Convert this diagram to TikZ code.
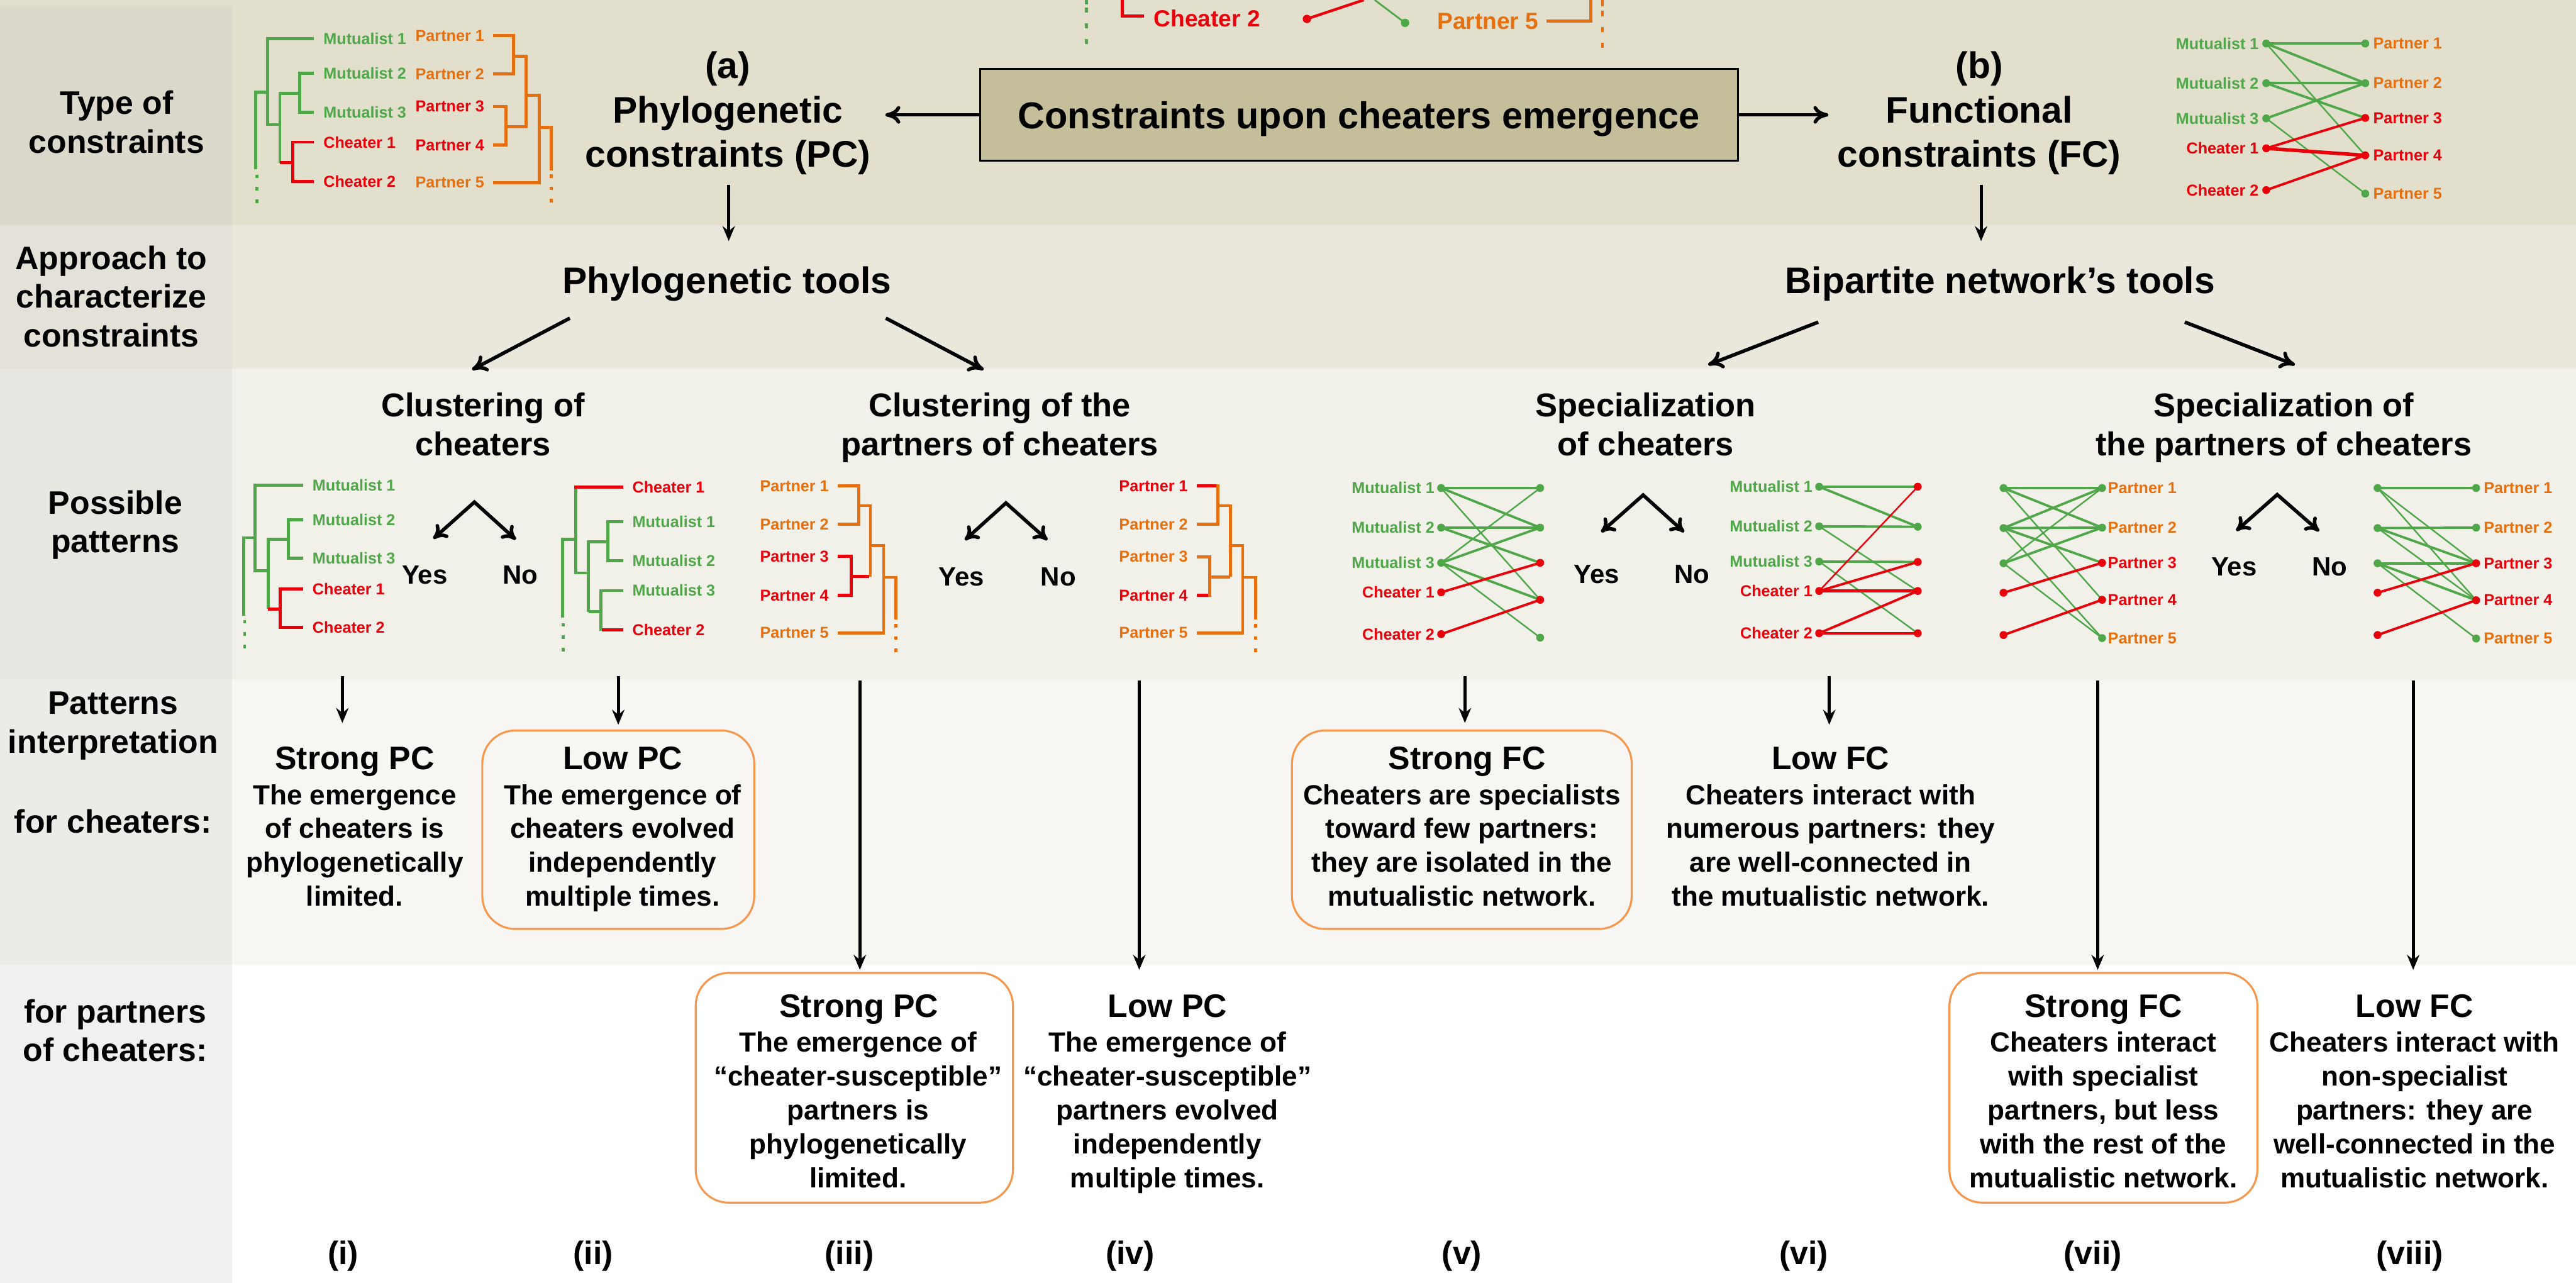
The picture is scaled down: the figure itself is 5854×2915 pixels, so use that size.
\documentclass[tikz,border=0pt]{standalone}
\usepackage{fontspec}
\setmainfont{Liberation Sans}
\usetikzlibrary{arrows.meta}
\definecolor{cgreen}{HTML}{4FA74A}
\definecolor{cred}{HTML}{E8000B}
\definecolor{corange}{HTML}{E6700F}
\definecolor{cbox}{HTML}{F5984D}
\definecolor{ctan}{HTML}{C5BE9A}
\definecolor{rowA}{HTML}{E2DFCC}
\definecolor{colA}{HTML}{DAD9CB}
\definecolor{rowB}{HTML}{EAE8DC}
\definecolor{colB}{HTML}{E4E2D8}
\definecolor{rowC}{HTML}{F2F1E9}
\definecolor{colC}{HTML}{E8E6E0}
\definecolor{rowD}{HTML}{F7F6F2}
\definecolor{colD}{HTML}{ECEBE7}
\definecolor{rowE}{HTML}{FFFFFF}
\definecolor{colE}{HTML}{F0F0F0}
\newcommand{\mlines}[6]{\foreach \lntext [count=\lnidx] in {#6} {\node[#2] (#1\lnidx) at (#3,{#4+(\lnidx-1)*#5}) {\lntext};}}
\newcommand{\bnet}[5]{\foreach \yy [count=\ii] in {#4} {\coordinate (#1L\ii) at (#2,\yy);}\foreach \yy [count=\ii] in {#5} {\coordinate (#1R\ii) at (#3,\yy);}}
\tikzset{
  fT/.style={font=\fontsize{84}{101}\selectfont\bfseries, anchor=base, inner sep=0pt},
  fL/.style={font=\fontsize{74}{88}\selectfont\bfseries, anchor=base, inner sep=0pt},
  fH/.style={font=\fontsize{75}{88}\selectfont\bfseries, anchor=base, inner sep=0pt},
  fM/.style={font=\fontsize{85}{100}\selectfont\bfseries, anchor=base, inner sep=0pt},
  fB/.style={font=\fontsize{63}{77}\selectfont\bfseries, anchor=base, inner sep=0pt},
  fK/.style={font=\fontsize{74}{88}\selectfont\bfseries, anchor=base, inner sep=0pt},
  fY/.style={font=\fontsize{60}{70}\selectfont\bfseries, anchor=base, inner sep=0pt},
  fs/.style={font=\fontsize{36}{40}\selectfont\bfseries, inner sep=0pt},
  fc/.style={font=\fontsize{53}{60}\selectfont\bfseries, inner sep=0pt},
  tr/.style={line width=7pt},
  trd/.style={line width=7pt, dash pattern=on 8pt off 20pt},
  darr/.style={line width=7pt, -{Stealth[length=34pt,width=28pt,inset=11pt]}},
  harr/.style={line width=8pt, -{Computer Modern Rightarrow[length=34pt,width=40pt]}},
  yn/.style={line width=8pt, line join=miter, {Computer Modern Rightarrow[length=30pt,width=40pt]}-{Computer Modern Rightarrow[length=30pt,width=40pt]}},
  gT/.style={cgreen, line width=5.5pt},
  gt/.style={cgreen, line width=3.5pt},
  rT/.style={cred, line width=5.5pt},
  rX/.style={cred, line width=8pt},
  rt/.style={cred, line width=3.5pt},
  dot/.style={circle, inner sep=0pt, minimum size=18pt},
  obox/.style={draw=cbox, line width=4.5pt, rounded corners=75pt, inner sep=0pt},
}
\begin{document}
\begin{tikzpicture}[x=1pt,y=-1pt]
\useasboundingbox (0,0) rectangle (5854,2915);
% ---------- backgrounds
\fill[rowA] (0,0) rectangle (5854,511);
\fill[colA] (0,13) rectangle (528,511);
\fill[rowB] (0,511) rectangle (5854,838);
\fill[colB] (0,511) rectangle (528,838);
\fill[rowC] (0,838) rectangle (5854,1545);
\fill[colC] (0,838) rectangle (528,1545);
\fill[rowD] (0,1545) rectangle (5854,2193);
\fill[colD] (0,1545) rectangle (528,2193);
\fill[rowE] (0,2193) rectangle (5854,2915);
\fill[colE] (0,2193) rectangle (528,2915);
% ---------- row labels
\mlines{labA}{fL}{265}{260}{88}{Type of,constraints}
\mlines{labB}{fL}{253}{612}{88}{Approach to,characterize,constraints}
\mlines{labC}{fL}{262}{1168}{88}{Possible,patterns}
\mlines{labD}{fL}{257}{1623}{89}{Patterns,interpretation}
\node[fL] (labD3) at (257,1893) {for cheaters:};
\mlines{labE}{fL}{262}{2324}{88}{for partners,of cheaters:}
% ---------- cut-off fragment at the top
\draw[cgreen, line width=6pt] (2469,0) -- (2469,10);
\draw[cgreen, line width=6pt, dash pattern=on 11pt off 25pt] (2469,17) -- (2469,100);
\draw[cred, line width=7pt] (2550,0) -- (2550,37) -- (2599,37);
\node[fc, anchor=west, text=cred] (fragc) at (2622,42) {Cheater 2};
\coordinate (fr0) at (3099,0); \coordinate (fr1) at (2970,43);
\coordinate (fg0) at (3124,0); \coordinate (fg1) at (3193,52);
\draw[cred, line width=6pt] (fr0) -- (fr1);
\draw[cgreen, line width=4pt] (fg0) -- (fg1);
\node[dot, fill=cred, minimum size=19pt] (frd) at (fr1) {};
\node[dot, fill=cgreen, minimum size=19pt] (fgd) at (fg1) {};
\node[fc, anchor=west, text=corange] (fragp) at (3266,49) {Partner 5};
\draw[corange, line width=8pt] (3515,48) -- (3615,48) -- (3615,0);
\draw[corange, line width=6pt] (3642,0) -- (3642,15);
\draw[corange, line width=6pt, dash pattern=on 12pt off 24pt] (3642,25) -- (3642,110);
% ---------- titles (a) (b)
\mlines{tA}{fT}{1654}{178}{101}{(a),Phylogenetic,constraints (PC)}
\mlines{tB}{fT}{4498}{178}{101}{(b),Functional,constraints (FC)}
\node[draw=black, line width=4.5pt, fill=ctan, minimum width=1723pt, minimum height=208pt, inner sep=0pt] (main) at (3088.5,261) {};
\node[fM] (maintxt) at (3088,292) {Constraints upon cheaters emergence};
\coordinate (ea) at (2012,261); \coordinate (eb) at (4155,261);
\draw[harr] (main.west) -- (ea);
\draw[harr] (main.east) -- (eb);
\coordinate (a0) at (1656,420); \coordinate (a1) at (1656,548);
\coordinate (b0) at (4502,420); \coordinate (b1) at (4502,548);
\draw[darr] (a0) -- (a1);
\draw[darr] (b0) -- (b1);
% ---------- top-left trees
\draw[tr, cgreen] (581,385) -- (581,209) -- (608,209);
\draw[trd, cgreen] (584,397) -- (584,465);
\draw[tr, cgreen] (713,88) -- (608,88) -- (608,283) -- (636,283);
\draw[tr, cgreen] (636,370) -- (636,212) -- (681,212);
\draw[tr, cgreen] (713,167) -- (681,167) -- (681,255) -- (713,255);
\draw[tr, cred] (636,370) -- (665,370);
\draw[tr, cred] (713,323) -- (665,323) -- (665,412) -- (713,412);
\foreach \t/\c/\yy [count=\ii] in {Mutualist 1/cgreen/88,Mutualist 2/cgreen/167,Mutualist 3/cgreen/255,Cheater 1/cred/323,Cheater 2/cred/412}
  {\node[fs, anchor=west, text=\c] (tlA\ii) at (735,\yy) {\t};}
\foreach \t/\c/\yy [count=\ii] in {Partner 1/corange/81,Partner 2/corange/168,Partner 3/cred/242,Partner 4/cred/330,Partner 5/corange/415}
  {\node[fs, anchor=west, text=\c] (tlP\ii) at (944,\yy) {\t};}
\draw[tr, corange] (1121,81) -- (1167,81) -- (1167,168) -- (1121,168);
\draw[tr, corange] (1167,128) -- (1196,128) -- (1196,288) -- (1150,288);
\draw[tr, corange] (1121,242) -- (1150,242) -- (1150,330) -- (1121,330);
\draw[tr, corange] (1196,217) -- (1225,217) -- (1225,415) -- (1121,415);
\draw[tr, corange] (1225,289) -- (1253,289) -- (1253,387);
\draw[trd, corange] (1253,396) -- (1253,462);
% ---------- top-right network
\bnet{N0}{5150}{5375}{99,189,269,337,432}{99,189,268,353,440}
\foreach \a/\b/\s in {1/1/gT,1/2/gT,1/4/gt,2/2/gT,2/3/gT,3/2/gT,3/5/gt,4/3/rT,4/4/rX,5/4/rT} {\draw[\s] (N0L\a) -- (N0R\b);}
\foreach \i/\c in {1/cgreen,2/cgreen,3/cgreen,4/cred,5/cred} {\node[dot, fill=\c] (N0dl\i) at (N0L\i) {};}
\foreach \i/\c in {1/cgreen,2/cgreen,3/cred,4/cred,5/cgreen} {\node[dot, fill=\c] (N0dr\i) at (N0R\i) {};}
\foreach \t/\c [count=\ii] in {Mutualist 1/cgreen,Mutualist 2/cgreen,Mutualist 3/cgreen,Cheater 1/cred,Cheater 2/cred}
  {\node[fs, anchor=east, text=\c] (N0tl\ii) at ([xshift=-17pt]N0L\ii) {\t};}
\foreach \t/\c [count=\ii] in {Partner 1/corange,Partner 2/corange,Partner 3/cred,Partner 4/cred,Partner 5/corange}
  {\node[fs, anchor=west, text=\c] (N0tr\ii) at ([xshift=18pt]N0R\ii) {\t};}
% ---------- row 2
\node[fT] (toolA) at (1652,666) {Phylogenetic tools};
\node[fT] (toolB) at (4545,666) {Bipartite network’s tools};
\coordinate (pa0) at (1295,723); \coordinate (pa1) at (1073,840);
\coordinate (pb0) at (2013,723); \coordinate (pb1) at (2235,840);
\coordinate (qa0) at (4132,732); \coordinate (qa1) at (3882,829);
\coordinate (qb0) at (4965,732); \coordinate (qb1) at (5215,829);
\draw[harr] (pa0) -- (pa1);
\draw[harr] (pb0) -- (pb1);
\draw[harr] (qa0) -- (qa1);
\draw[harr] (qb0) -- (qb1);
% ---------- row 3 headings
\mlines{hA}{fH}{1098}{947}{88}{Clustering of,cheaters}
\mlines{hB}{fH}{2272}{947}{88}{Clustering of the,partners of cheaters}
\mlines{hC}{fH}{3740}{947}{88}{Specialization,of cheaters}
\mlines{hD}{fH}{5190}{947}{88}{Specialization of,the partners of cheaters}
% ---------- yes / no
\foreach \ax/\ay/\lx/\ly/\rx/\ry/\yx/\nx/\by [count=\ii] in
  {1078/1141/985/1224/1172/1226/965/1182/1327,
   2286/1143/2193/1227/2380/1227/2185/2405/1331,
   3734/1125/3639/1209/3827/1209/3628/3845/1326,
   5175/1124/5082/1206/5270/1207/5077/5294/1309}
  {\coordinate (ynA\ii) at (\ax,\ay); \coordinate (ynL\ii) at (\lx,\ly); \coordinate (ynR\ii) at (\rx,\ry);
   \draw[yn] (ynL\ii) -- (ynA\ii) -- (ynR\ii);
   \node[fY] (yes\ii) at (\yx,\by) {Yes};
   \node[fY] (no\ii) at (\nx,\by) {No};}
% ---------- tree: clustering of cheaters, yes
\draw[tr, cgreen] (554,1399) -- (554,1222) -- (580,1222);
\draw[trd, cgreen] (556,1409) -- (556,1476);
\draw[tr, cgreen] (689,1102) -- (580,1102) -- (580,1297) -- (609,1297);
\draw[tr, cgreen] (609,1384) -- (609,1225) -- (655,1225);
\draw[tr, cgreen] (689,1181) -- (655,1181) -- (655,1268) -- (689,1268);
\draw[tr, cred] (609,1384) -- (637,1384);
\draw[tr, cred] (689,1338) -- (637,1338) -- (637,1425) -- (689,1425);
\foreach \t/\c/\yy [count=\ii] in {Mutualist 1/cgreen/1102,Mutualist 2/cgreen/1181,Mutualist 3/cgreen/1268,Cheater 1/cred/1338,Cheater 2/cred/1425}
  {\node[fs, anchor=west, text=\c] (tB\ii) at (710,\yy) {\t};}
% ---------- tree: clustering of cheaters, no
\draw[tr, cgreen] (1279,1404) -- (1279,1225) -- (1308,1225);
\draw[trd, cgreen] (1280,1416) -- (1280,1483);
\draw[tr, cgreen] (1308,1107) -- (1308,1302) -- (1337,1302);
\draw[tr, cred] (1305,1107) -- (1416,1107);
\draw[tr, cgreen] (1337,1390) -- (1337,1231) -- (1381,1231);
\draw[tr, cgreen] (1416,1185) -- (1381,1185) -- (1381,1274) -- (1416,1274);
\draw[tr, cgreen] (1337,1390) -- (1365,1390);
\draw[tr, cgreen] (1416,1342) -- (1365,1342) -- (1365,1434);
\draw[tr, cred] (1368,1431) -- (1416,1431);
\foreach \t/\c/\yy [count=\ii] in {Cheater 1/cred/1107,Mutualist 1/cgreen/1185,Mutualist 2/cgreen/1274,Mutualist 3/cgreen/1342,Cheater 2/cred/1431}
  {\node[fs, anchor=west, text=\c] (tC\ii) at (1437,\yy) {\t};}
% ---------- tree: partners, yes
\foreach \t/\c/\yy [count=\ii] in {Partner 1/corange/1104,Partner 2/corange/1191,Partner 3/cred/1264,Partner 4/cred/1353,Partner 5/corange/1438}
  {\node[fs, anchor=west, text=\c] (tD\ii) at (1727,\yy) {\t};}
\draw[tr, corange] (1903,1104) -- (1951,1104) -- (1951,1191) -- (1903,1191);
\draw[tr, corange] (1951,1149) -- (1978,1149) -- (1978,1311);
\draw[tr, corange] (1978,1240) -- (2008,1240) -- (2008,1438) -- (1903,1438);
\draw[tr, cred] (1903,1264) -- (1934,1264) -- (1934,1353) -- (1903,1353);
\draw[tr, cred] (1934,1310) -- (1975,1310);
\draw[tr, corange] (2008,1312) -- (2036,1312) -- (2036,1408);
\draw[trd, corange] (2036,1418) -- (2036,1484);
% ---------- tree: partners, no
\foreach \t/\c/\yy [count=\ii] in {Partner 1/cred/1104,Partner 2/corange/1191,Partner 3/corange/1265,Partner 4/cred/1353,Partner 5/corange/1438}
  {\node[fs, anchor=west, text=\c] (tE\ii) at (2543,\yy) {\t};}
\draw[tr, cred] (2720,1104) -- (2765,1104);
\draw[tr, corange] (2768,1101) -- (2768,1191) -- (2720,1191);
\draw[tr, corange] (2768,1149) -- (2796,1149) -- (2796,1311);
\draw[tr, corange] (2796,1240) -- (2824,1240) -- (2824,1438) -- (2720,1438);
\draw[tr, corange] (2720,1265) -- (2749,1265) -- (2749,1356);
\draw[tr, cred] (2720,1353) -- (2746,1353);
\draw[tr, corange] (2749,1311) -- (2796,1311);
\draw[tr, corange] (2824,1312) -- (2853,1312) -- (2853,1408);
\draw[trd, corange] (2853,1418) -- (2853,1484);
% ---------- network: specialization of cheaters, yes
\bnet{N1}{3275}{3500}{1109,1199,1279,1346,1441}{1109,1199,1279,1363,1449}
\foreach \a/\b/\s in {1/1/gT,1/2/gT,1/4/gt,2/2/gT,2/3/gT,3/1/gt,3/2/gT,3/4/gT,3/5/gt,4/3/rT,5/4/rT} {\draw[\s] (N1L\a) -- (N1R\b);}
\foreach \i/\c in {1/cgreen,2/cgreen,3/cgreen,4/cred,5/cred} {\node[dot, fill=\c] (N1dl\i) at (N1L\i) {};}
\foreach \i/\c in {1/cgreen,2/cgreen,3/cred,4/cred,5/cgreen} {\node[dot, fill=\c] (N1dr\i) at (N1R\i) {};}
\foreach \t/\c [count=\ii] in {Mutualist 1/cgreen,Mutualist 2/cgreen,Mutualist 3/cgreen,Cheater 1/cred,Cheater 2/cred}
  {\node[fs, anchor=east, text=\c] (N1tl\ii) at ([xshift=-15pt]N1L\ii) {\t};}
% ---------- network: specialization of cheaters, no
\bnet{N2}{4134}{4358}{1106,1196,1276,1343,1439}{1106,1197,1277,1343,1439}
\foreach \a/\b/\s in {1/1/gT,1/2/gT,2/2/gT,2/4/gt,3/3/gT,3/5/gt,4/1/rt,4/3/rT,4/4/rX,5/4/rT,5/5/rT} {\draw[\s] (N2L\a) -- (N2R\b);}
\foreach \i/\c in {1/cgreen,2/cgreen,3/cgreen,4/cred,5/cred} {\node[dot, fill=\c] (N2dl\i) at (N2L\i) {};}
\foreach \i/\c in {1/cred,2/cgreen,3/cred,4/cred,5/cred} {\node[dot, fill=\c] (N2dr\i) at (N2R\i) {};}
\foreach \t/\c [count=\ii] in {Mutualist 1/cgreen,Mutualist 2/cgreen,Mutualist 3/cgreen,Cheater 1/cred,Cheater 2/cred}
  {\node[fs, anchor=east, text=\c] (N2tl\ii) at ([xshift=-15pt]N2L\ii) {\t};}
% ---------- network: specialization of partners, yes
\bnet{N3}{4553}{4777}{1109,1200,1280,1347,1443}{1109,1199,1279,1363,1450}
\foreach \a/\b/\s in {1/1/gT,1/2/gT,1/4/gt,2/1/gT,2/2/gT,2/3/gT,2/5/gt,3/1/gt,3/2/gT,3/5/gt,4/3/rT,5/4/rT} {\draw[\s] (N3L\a) -- (N3R\b);}
\foreach \i/\c in {1/cgreen,2/cgreen,3/cgreen,4/cred,5/cred} {\node[dot, fill=\c] (N3dl\i) at (N3L\i) {};}
\foreach \i/\c in {1/cgreen,2/cgreen,3/cred,4/cred,5/cgreen} {\node[dot, fill=\c] (N3dr\i) at (N3R\i) {};}
\foreach \t/\c [count=\ii] in {Partner 1/corange,Partner 2/corange,Partner 3/cred,Partner 4/cred,Partner 5/corange}
  {\node[fs, anchor=west, text=\c] (N3tr\ii) at ([xshift=13pt]N3R\ii) {\t};}
% ---------- network: specialization of partners, no
\bnet{N4}{5403}{5627}{1109,1200,1280,1347,1443}{1109,1199,1280,1364,1451}
\foreach \a/\b/\s in {1/1/gT,1/3/gt,1/4/gt,2/2/gT,2/3/gT,2/4/gt,3/3/gT,3/4/gT,3/5/gt,4/3/rT,5/4/rT} {\draw[\s] (N4L\a) -- (N4R\b);}
\foreach \i/\c in {1/cgreen,2/cgreen,3/cgreen,4/cred,5/cred} {\node[dot, fill=\c] (N4dl\i) at (N4L\i) {};}
\foreach \i/\c in {1/cgreen,2/cgreen,3/cred,4/cred,5/cgreen} {\node[dot, fill=\c] (N4dr\i) at (N4R\i) {};}
\foreach \t/\c [count=\ii] in {Partner 1/corange,Partner 2/corange,Partner 3/cred,Partner 4/cred,Partner 5/corange}
  {\node[fs, anchor=west, text=\c] (N4tr\ii) at ([xshift=17pt]N4R\ii) {\t};}
% ---------- boxes
\node[obox, minimum width=618pt, minimum height=451pt] (boxii) at (1405,1885.5) {};
\node[obox, minimum width=772pt, minimum height=451pt] (boxv) at (3322,1885.5) {};
\node[obox, minimum width=721pt, minimum height=522pt] (boxiii) at (1941.5,2472) {};
\node[obox, minimum width=700pt, minimum height=522pt] (boxvii) at (4780,2472) {};
% ---------- vertical arrows
\foreach \xx/\ya/\yb/\nm in {778/1537/1643/i,1405/1537/1647/ii,1954/1547/2204/iii,2589/1547/2204/iv,3329/1537/1643/v,4157/1537/1647/vi,4767/1547/2204/vii,5484/1547/2204/viii}
  {\coordinate (s\nm) at (\xx,\ya); \coordinate (e\nm) at (\xx,\yb); \draw[darr] (s\nm) -- (e\nm);}
% ---------- interpretation texts
\node[fK] (hi) at (806,1748) {Strong PC};
\mlines{bi}{fB}{806}{1828}{77}{The emergence,of cheaters is,phylogenetically,limited.}
\node[fK] (hii) at (1415,1748) {Low PC};
\mlines{bii}{fB}{1415}{1828}{77}{The emergence of,cheaters evolved,independently,multiple times.}
\node[fK] (hv) at (3334,1748) {Strong FC};
\mlines{bv}{fB}{3322}{1828}{77}{Cheaters are specialists,toward few partners:,they are isolated in the,mutualistic network.}
\node[fK] (hvi) at (4160,1748) {Low FC};
\mlines{bvi}{fB}{4160}{1828}{77}{Cheaters interact with,numerous partners: they,are well-connected in,the mutualistic network.}
\node[fK] (hiii) at (1952,2311) {Strong PC};
\mlines{biii}{fB}{1950}{2391}{77}{The emergence of,“cheater-susceptible”,partners is,phylogenetically,limited.}
\node[fK] (hiv) at (2653,2311) {Low PC};
\mlines{biv}{fB}{2653}{2391}{77}{The emergence of,“cheater-susceptible”,partners evolved,independently,multiple times.}
\node[fK] (hvii) at (4780,2311) {Strong FC};
\mlines{bvii}{fB}{4780}{2391}{77}{Cheaters interact,with specialist,{partners, but less},with the rest of the,mutualistic network.}
\node[fK] (hviii) at (5487,2311) {Low FC};
\mlines{bviii}{fB}{5487}{2391}{77}{Cheaters interact with,non-specialist,partners: they are,well-connected in the,mutualistic network.}
% ---------- roman labels
\foreach \xx/\t in {780/(i),1348/(ii),1930/(iii),2568/(iv),3322/(v),4099/(vi),4756/(vii),5476/(viii)}
  {\node[fK] (rl\t) at (\xx,2874) {\t};}
\end{tikzpicture}
\end{document}
